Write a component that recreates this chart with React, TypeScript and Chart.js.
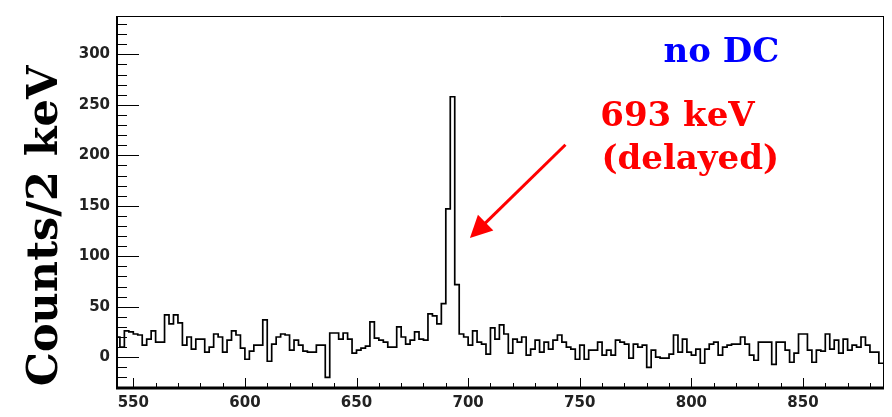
import React, { useEffect, useRef } from "react";
import { Chart, registerables } from "chart.js";

Chart.register(...registerables);

// ---- data ----
const BIN_START = 542; // keV, left edge of first bin
const BIN_WIDTH = 2; // keV per bin
const counts: number[] = [
  20, 10, 26, 25, 23, 22, 12, 18, 26, 15,
  15, 42, 33, 42, 34, 12, 20, 8, 18, 18,
  5, 10, 23, 20, 5, 17, 26, 22, 9, -2,
  6, 12, 12, 37, -4, 13, 20, 23, 22, 7,
  17, 12, 6, 5, 5, 12, 12, -20, 24, 24,
  18, 24, 18, 4, 7, 9, 11, 35, 19, 17,
  15, 10, 10, 30, 20, 13, 17, 25, 18, 17,
  43, 41, 33, 53, 147, 258, 72, 23, 20, 12,
  26, 15, 13, 3, 29, 18, 32, 23, 4, 18,
  15, 20, 2, 8, 17, 5, 15, 8, 17, 22,
  15, 10, 8, -2, 12, -2, 7, 7, 15, 2,
  7, 2, 17, 15, 13, -1, 13, 10, 12, -10,
  7, 0, -1, -1, 3, 22, 5, 18, 5, 2,
  8, -6, 8, 13, 15, 2, 10, 12, 13, 13,
  20, 13, 2, -3, 15, 15, 15, -7, 15, 15,
  7, -5, 4, 23, 23, 7, -5, 7, 6, 23,
  8, 17, 4, 18, 7, 12, 10, 20, 12, 5,
  5, -6, -6,
];
const xTickLabels: number[] = [550, 600, 650, 700, 750, 800, 850];
const yTickLabels: number[] = [0, 50, 100, 150, 200, 250, 300];
const xRange: [number, number] = [542.7, 886.3];
const yRange: [number, number] = [-30.5, 338];
const yTitle = "Counts/2 keV";
const tagText = "no DC";
const peakLines = ["693 keV", "(delayed)"];
// annotation anchors in data units (keV, counts)
const tagPos = { x: 787.5, y: 292.5 };
const peakPos = [
  { x: 759.2, y: 229 },
  { x: 759.7, y: 186 },
];
const arrowFrom = { x: 743.6, y: 210.5 };
const arrowTo = { x: 700.8, y: 118 };

const points = counts.map((c, i) => ({ x: BIN_START + i * BIN_WIDTH, y: c }));
points.push({ x: BIN_START + counts.length * BIN_WIDTH, y: counts[counts.length - 1] });

const framePlugin = {
  id: "rootFrame",
  afterDatasetsDraw(chart: any) {
    const { ctx, chartArea: a, scales } = chart;
    const xs = scales.x;
    const ys = scales.y;
    ctx.save();
    ctx.strokeStyle = "#000";
    ctx.lineWidth = 1;
    // y ticks (inside)
    for (let v = Math.ceil(yRange[0] / 10) * 10; v <= yRange[1]; v += 10) {
      const py = Math.round(ys.getPixelForValue(v)) + 0.5;
      const len = v % 50 === 0 ? 22 : 10;
      ctx.beginPath();
      ctx.moveTo(a.left, py);
      ctx.lineTo(a.left + len, py);
      ctx.stroke();
    }
    // x ticks (inside)
    for (let v = Math.ceil(xRange[0] / 10) * 10; v <= xRange[1]; v += 10) {
      const px = Math.round(xs.getPixelForValue(v)) + 0.5;
      const len = v % 50 === 0 ? 10 : 5;
      ctx.beginPath();
      ctx.moveTo(px, a.bottom);
      ctx.lineTo(px, a.bottom - len);
      ctx.stroke();
    }
    // frame
    ctx.beginPath();
    ctx.moveTo(a.left, a.top + 0.5);
    ctx.lineTo(a.right, a.top + 0.5);
    ctx.moveTo(a.right - 0.5, a.top);
    ctx.lineTo(a.right - 0.5, a.bottom);
    ctx.stroke();
    ctx.lineWidth = 2;
    ctx.beginPath();
    ctx.moveTo(a.left, a.top);
    ctx.lineTo(a.left, a.bottom);
    ctx.stroke();
    ctx.lineWidth = 3;
    ctx.beginPath();
    ctx.moveTo(a.left - 1, a.bottom);
    ctx.lineTo(a.right, a.bottom);
    ctx.stroke();
    ctx.restore();
  },
  afterDraw(chart: any) {
    const { ctx, scales } = chart;
    const xs = scales.x;
    const ys = scales.y;
    ctx.save();
    // y title
    ctx.fillStyle = "#000";
    ctx.font = 'bold 43px "DejaVu Serif"';
    ctx.textBaseline = "alphabetic";
    ctx.textAlign = "center";
    ctx.translate(57, 226);
    ctx.rotate(-Math.PI / 2);
    ctx.fillText(yTitle, 0, 0);
    ctx.setTransform(1, 0, 0, 1, 0, 0);
    // tag
    ctx.textAlign = "left";
    ctx.fillStyle = "#0000ff";
    ctx.font = 'bold 34px "DejaVu Serif"';
    ctx.fillText(tagText, xs.getPixelForValue(tagPos.x), ys.getPixelForValue(tagPos.y));
    // peak label
    ctx.fillStyle = "#ff0000";
    ctx.font = 'bold 34px "DejaVu Serif"';
    peakLines.forEach((t, i) => {
      ctx.fillText(t, xs.getPixelForValue(peakPos[i].x), ys.getPixelForValue(peakPos[i].y));
    });
    // arrow
    const x0 = xs.getPixelForValue(arrowFrom.x);
    const y0 = ys.getPixelForValue(arrowFrom.y);
    const x1 = xs.getPixelForValue(arrowTo.x);
    const y1 = ys.getPixelForValue(arrowTo.y);
    const dx = x1 - x0;
    const dy = y1 - y0;
    const L = Math.hypot(dx, dy);
    const ux = dx / L;
    const uy = dy / L;
    const headLen = 22;
    const headHalf = 11;
    const bx = x1 - ux * headLen;
    const by = y1 - uy * headLen;
    ctx.strokeStyle = "#ff0000";
    ctx.lineWidth = 3;
    ctx.beginPath();
    ctx.moveTo(x0, y0);
    ctx.lineTo(bx + ux * 2, by + uy * 2);
    ctx.stroke();
    ctx.beginPath();
    ctx.moveTo(x1, y1);
    ctx.lineTo(bx - uy * headHalf, by + ux * headHalf);
    ctx.lineTo(bx + uy * headHalf, by - ux * headHalf);
    ctx.closePath();
    ctx.fillStyle = "#ff0000";
    ctx.fill();
    ctx.restore();
  },
};

export default function App() {
  const ref = useRef<HTMLCanvasElement | null>(null);
  useEffect(() => {
    if (!ref.current) return;
    const tickFont = { family: '"DejaVu Sans", sans-serif', weight: "bold" as const, size: 15 };
    const chart = new Chart(ref.current, {
      type: "line",
      data: {
        datasets: [
          {
            data: points,
            stepped: true,
            borderColor: "#000",
            borderWidth: 1.7,
            pointRadius: 0,
            fill: false,
          },
        ],
      },
      options: {
        animation: false,
        responsive: false,
        maintainAspectRatio: false,
        layout: { padding: { top: 12, right: 8, left: 0, bottom: 0 } },
        plugins: { legend: { display: false }, tooltip: { enabled: false }, title: { display: false } },
        scales: {
          x: {
            type: "linear",
            min: xRange[0],
            max: xRange[1],
            grid: { display: false, drawTicks: false },
            border: { display: false },
            afterFit: (s: any) => {
              s.height = 29;
            },
            afterBuildTicks: (s: any) => {
              s.ticks = xTickLabels.map((v) => ({ value: v }));
            },
            ticks: { font: tickFont, color: "#222", padding: 6, maxRotation: 0, autoSkip: false },
          },
          y: {
            type: "linear",
            min: yRange[0],
            max: yRange[1],
            grid: { display: false, drawTicks: false },
            border: { display: false },
            afterFit: (s: any) => {
              s.width = 117;
            },
            afterBuildTicks: (s: any) => {
              s.ticks = yTickLabels.map((v) => ({ value: v }));
            },
            ticks: { font: tickFont, color: "#222", padding: 7, autoSkip: false },
          },
        },
      },
      plugins: [framePlugin],
    });
    return () => chart.destroy();
  }, []);
  return (
    <div style={{ position: "absolute", left: 0, top: 0, width: 892, height: 417, background: "#fff" }}>
      <canvas ref={ref} width={892} height={417} />
    </div>
  );
}
